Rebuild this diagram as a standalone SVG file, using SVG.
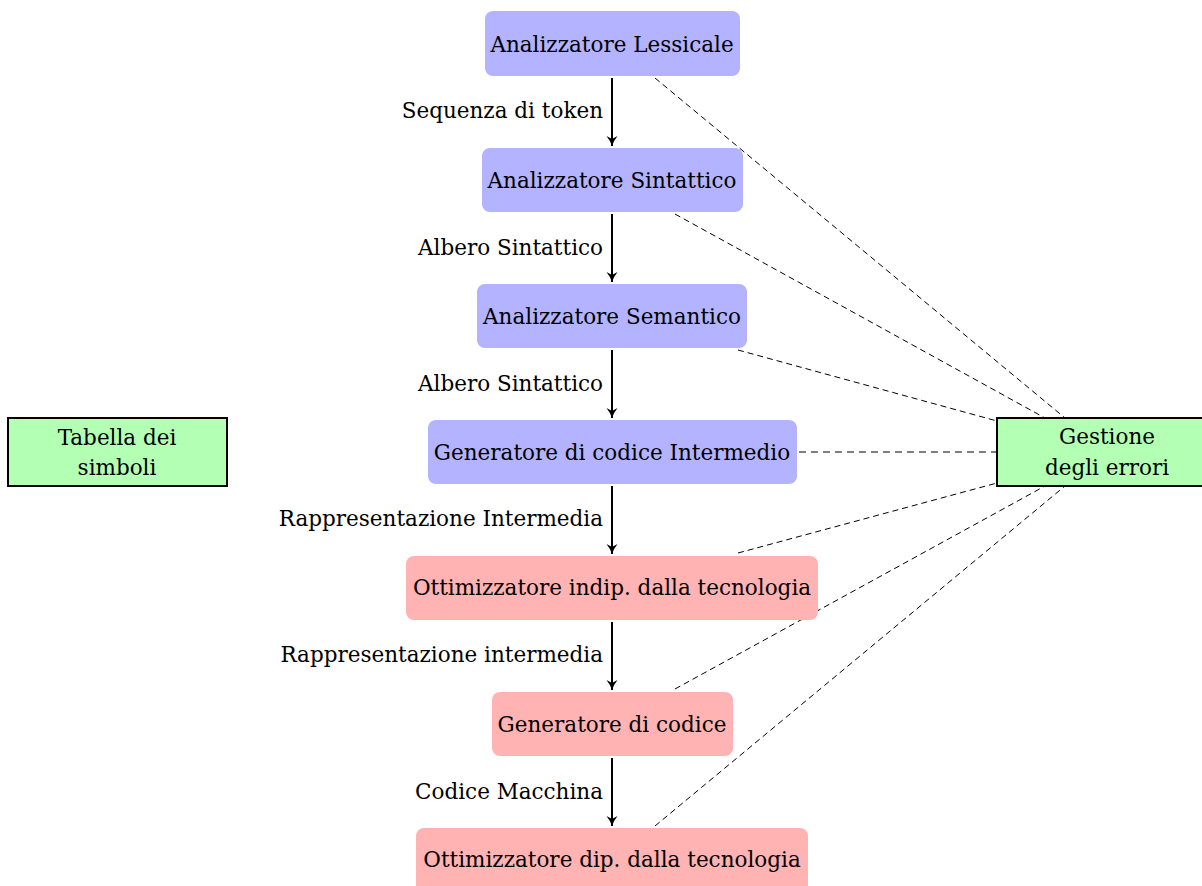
<svg xmlns="http://www.w3.org/2000/svg" width="1202" height="886" viewBox="0 0 1202 886">
  <style>
    text { font-family: "DejaVu Serif", "Liberation Serif", serif; font-size: 21.5px; fill: #000; }
    .c { text-anchor: middle; dominant-baseline: central; }
    .lbl { text-anchor: end; dominant-baseline: central; }
    .front { fill: #b3b3ff; }
    .back { fill: #ffb3b3; }
    .aux { fill: #b3ffb3; stroke: #000; stroke-width: 2; }
    .flow { stroke: #000; stroke-width: 2; fill: none; marker-end: url(#arrow); }
    .err { stroke: #000; stroke-width: 1; stroke-dasharray: 6 4; fill: none; }
    .err-h { stroke: #555; stroke-width: 1.5; stroke-dasharray: 7 5; fill: none; }
  </style>
  <defs>
    <marker id="arrow" markerWidth="14" markerHeight="14" refX="11" refY="7" orient="auto" markerUnits="userSpaceOnUse">
      <path d="M1,1.5 Q6,5.5 11,7 Q6,8.5 1,12.5 L4,7 Z" fill="#000"/>
    </marker>
  </defs>

  <!-- error-handling links -->
  <g id="connectors">
    <line class="err" x1="655" y1="78" x2="1065" y2="418"/>
    <line class="err" x1="675" y1="214" x2="1045" y2="418"/>
    <line class="err" x1="738" y1="350" x2="997" y2="421"/>
    <line class="err-h" x1="799" y1="452" x2="997" y2="452"/>
    <line class="err" x1="738" y1="553" x2="997" y2="483"/>
    <line class="err" x1="675" y1="689" x2="1045" y2="486"/>
    <line class="err" x1="655" y1="826" x2="1065" y2="486"/>

    <!-- pipeline arrows -->
    <line class="flow" x1="612" y1="78" x2="612" y2="146"/>
    <line class="flow" x1="612" y1="214" x2="612" y2="282"/>
    <line class="flow" x1="612" y1="350" x2="612" y2="418"/>
    <line class="flow" x1="612" y1="486" x2="612" y2="554"/>
    <line class="flow" x1="612" y1="622" x2="612" y2="690"/>
    <line class="flow" x1="612" y1="758" x2="612" y2="826"/>

    <text class="lbl" x="603" y="110">Sequenza di token</text>
    <text class="lbl" x="603" y="247">Albero Sintattico</text>
    <text class="lbl" x="603" y="383">Albero Sintattico</text>
    <text class="lbl" x="603" y="518">Rappresentazione Intermedia</text>
    <text class="lbl" x="603" y="654">Rappresentazione intermedia</text>
    <text class="lbl" x="603" y="791">Codice Macchina</text>
  </g>

  <g id="lessicale">
    <rect class="front" x="485" y="11" width="255" height="65" rx="8"/>
    <text class="c" x="612" y="44">Analizzatore Lessicale</text>
  </g>
  <g id="sintattico">
    <rect class="front" x="482" y="148" width="261" height="64" rx="8"/>
    <text class="c" x="612" y="180">Analizzatore Sintattico</text>
  </g>
  <g id="semantico">
    <rect class="front" x="477" y="284" width="270" height="64" rx="8"/>
    <text class="c" x="612" y="316">Analizzatore Semantico</text>
  </g>
  <g id="intermedio">
    <rect class="front" x="428" y="420" width="369" height="64" rx="8"/>
    <text class="c" x="612" y="452">Generatore di codice Intermedio</text>
  </g>
  <g id="ottimizzatore-indip">
    <rect class="back" x="406" y="556" width="412" height="64" rx="8"/>
    <text class="c" x="612" y="587">Ottimizzatore indip. dalla tecnologia</text>
  </g>
  <g id="generatore">
    <rect class="back" x="492" y="692" width="241" height="64" rx="8"/>
    <text class="c" x="612" y="724">Generatore di codice</text>
  </g>
  <g id="ottimizzatore-dip">
    <rect class="back" x="416" y="828" width="392" height="68" rx="8"/>
    <text class="c" x="612" y="859">Ottimizzatore dip. dalla tecnologia</text>
  </g>

  <g id="tabella">
    <rect class="aux" x="8" y="418" width="219" height="68"/>
    <text class="c" x="117" y="437">Tabella dei</text>
    <text class="c" x="117" y="467">simboli</text>
  </g>
  <g id="gestione">
    <rect class="aux" x="997" y="418" width="210" height="68"/>
    <text class="c" x="1107" y="436">Gestione</text>
    <text class="c" x="1107" y="467">degli errori</text>
  </g>
</svg>
